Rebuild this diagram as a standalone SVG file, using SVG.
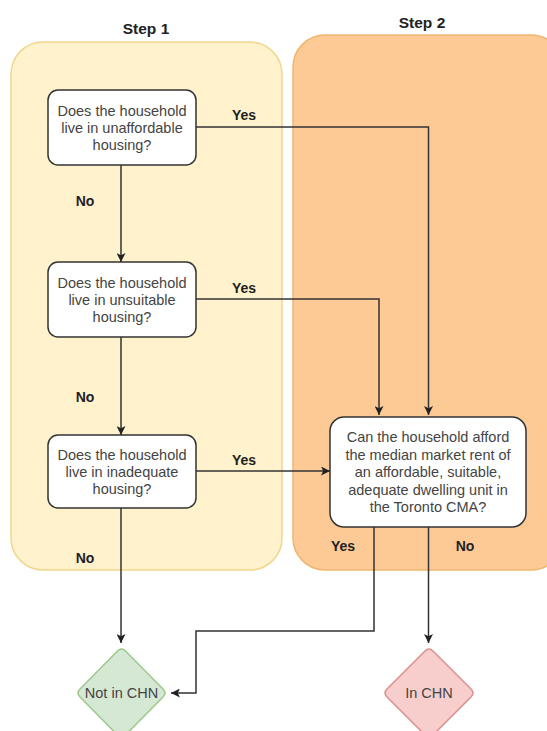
<svg xmlns="http://www.w3.org/2000/svg" width="547" height="731" viewBox="0 0 547 731">
<style>
.box{fill:#fff;stroke:#333;stroke-width:1.5}
.bt{font-family:"Liberation Sans",Arial,sans-serif;font-size:14.5px;fill:#444;text-anchor:middle}
.lbl{font-family:"Liberation Sans",Arial,sans-serif;font-size:14px;font-weight:bold;fill:#222;text-anchor:middle}
.step{font-family:"Liberation Sans",Arial,sans-serif;font-size:15.5px;font-weight:bold;fill:#222;text-anchor:middle}
.con{fill:none;stroke:#333;stroke-width:1.5}
</style>
<defs>
<marker id="arr" viewBox="0 0 10 10" refX="10" refY="5" markerWidth="9" markerHeight="9" markerUnits="userSpaceOnUse" orient="auto">
<path d="M0,0 L10,5 L0,10 L2.5,5 Z" fill="#222"/>
</marker>
</defs>
<rect width="547" height="731" fill="#fff"/>
<g id="step1">
<rect x="11" y="42" width="271" height="528" rx="32" fill="#fff2cc" stroke="#f2d68e" stroke-width="1.5"/>
<text class="step" x="146" y="34">Step 1</text>
</g>
<g id="step2">
<rect x="293" y="35" width="270" height="535" rx="32" fill="#fdca96" stroke="#eeb670" stroke-width="1.5"/>
<text class="step" x="422" y="28">Step 2</text>
</g>
<g id="connectors">
<path class="con" d="M196 127 H428.5 V415" marker-end="url(#arr)"/>
<path class="con" d="M196 299 H379 V415" marker-end="url(#arr)"/>
<path class="con" d="M121 165 V262" marker-end="url(#arr)"/>
<path class="con" d="M121 337 V435" marker-end="url(#arr)"/>
<path class="con" d="M196 471 H330" marker-end="url(#arr)"/>
<path class="con" d="M121 508 V643" marker-end="url(#arr)"/>
<path class="con" d="M374 527 V631 H196 V693 H171" marker-end="url(#arr)"/>
<path class="con" d="M428.5 527 V643" marker-end="url(#arr)"/>
<text class="lbl" x="244" y="120">Yes</text>
<text class="lbl" x="244" y="293">Yes</text>
<text class="lbl" x="244" y="465">Yes</text>
<text class="lbl" x="85" y="206">No</text>
<text class="lbl" x="85" y="402">No</text>
<text class="lbl" x="85" y="563">No</text>
<text class="lbl" x="343" y="551">Yes</text>
<text class="lbl" x="465" y="551">No</text>
</g>
<g id="q1">
<rect class="box" x="48" y="90" width="148" height="75" rx="10"/>
<text class="bt" x="122" y="115.5">Does the household</text>
<text class="bt" x="122" y="132.5">live in unaffordable</text>
<text class="bt" x="122" y="149.5">housing?</text>
</g>
<g id="q2">
<rect class="box" x="48" y="262" width="148" height="75" rx="10"/>
<text class="bt" x="122" y="287.5">Does the household</text>
<text class="bt" x="122" y="304.5">live in unsuitable</text>
<text class="bt" x="122" y="321.5">housing?</text>
</g>
<g id="q3">
<rect class="box" x="48" y="435" width="148" height="73" rx="10"/>
<text class="bt" x="122" y="459.5">Does the household</text>
<text class="bt" x="122" y="476.5">live in inadequate</text>
<text class="bt" x="122" y="493.5">housing?</text>
</g>
<g id="q4">
<rect class="box" x="330" y="417" width="196" height="110" rx="14"/>
<text class="bt" x="428" y="442">Can the household afford</text>
<text class="bt" x="428" y="459.5">the median market rent of</text>
<text class="bt" x="428" y="477">an affordable, suitable,</text>
<text class="bt" x="428" y="494.5">adequate dwelling unit in</text>
<text class="bt" x="428" y="512">the Toronto CMA?</text>
</g>
<g id="notchn">
<path d="M117.5 651 Q121.5 647 125.5 651 L163 689 Q167 693 163 697 L125.5 735 Q121.5 739 117.5 735 L80 697 Q76 693 80 689 Z" fill="#d5e8d4" stroke="#9cc98a" stroke-width="1.5"/>
<text class="bt" x="121.5" y="698">Not in CHN</text>
</g>
<g id="inchn">
<path d="M425 651 Q429 647 433 651 L471 689 Q475 693 471 697 L433 735 Q429 739 425 735 L387 697 Q383 693 387 689 Z" fill="#f8cecc" stroke="#dc8f8c" stroke-width="1.5"/>
<text class="bt" x="429" y="698">In CHN</text>
</g>
</svg>
